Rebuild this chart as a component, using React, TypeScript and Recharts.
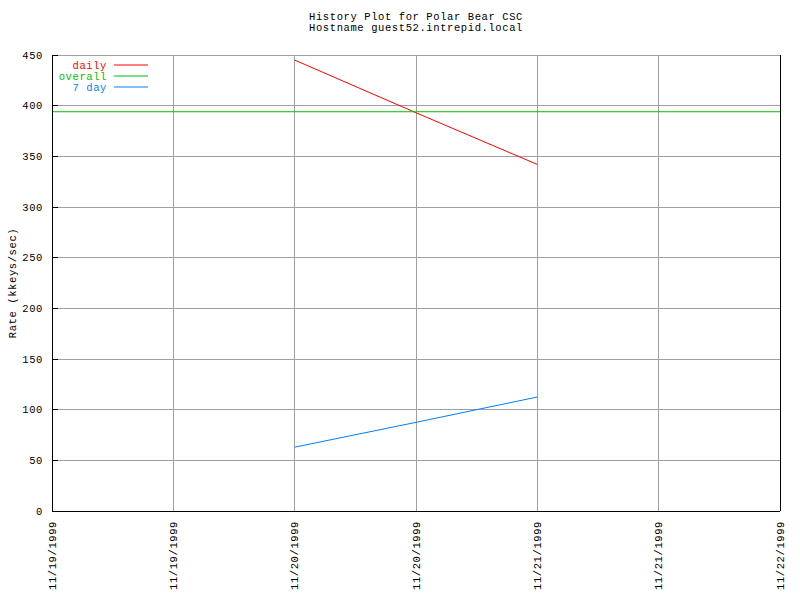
import React from 'react';
import { LineChart, Line, XAxis, YAxis, CartesianGrid } from 'recharts';

const xTickLabels = ['11/19/1999', '11/19/1999', '11/20/1999', '11/20/1999', '11/21/1999', '11/21/1999', '11/22/1999'];
const xPositions = [0, 1, 2, 3, 4, 5, 6];
const dailyValues: (number | null)[] = [null, null, 445, 393, 342, null, null];
const overallValues: (number | null)[] = [394, 394, 394, 394, 394, 394, 394];
const sevenDayValues: (number | null)[] = [null, null, 63, 87.5, 112.5, null, null];
const yTicks = [0, 50, 100, 150, 200, 250, 300, 350, 400, 450];
const titleLines = ['History Plot for Polar Bear CSC', 'Hostname guest52.intrepid.local'];
const yLabel = 'Rate (kkeys/sec)';

const series = [
  { key: 'daily', name: 'daily', color: '#ff0000' },
  { key: 'overall', name: 'overall', color: '#00c000' },
  { key: 'sevenDay', name: '7 day', color: '#0080ff' },
];

const data = xPositions.map((x, i) => ({
  x,
  daily: dailyValues[i],
  overall: overallValues[i],
  sevenDay: sevenDayValues[i],
}));

const minorTicks: number[] = [];
for (let i = 0; i < xPositions.length - 1; i++) {
  for (let k = 1; k < 4; k++) minorTicks.push(xPositions[i] + k / 4);
}

const FONT = '"Liberation Mono", "DejaVu Sans Mono", monospace';
const FS = 10.5;
const LS = 0.6;
const W = 800;
const H = 600;
const M = { top: 55, right: 0, bottom: 9, left: 0 };
const LEFT_W = 52;
const RIGHT_W = 20;
const BOTTOM_H = 80;
const plotTop = M.top;
const plotBottom = H - M.bottom - BOTTOM_H;
const plotLeft = LEFT_W;
const plotRight = W - RIGHT_W;

const textProps = { fontFamily: FONT, fontSize: FS, letterSpacing: LS };

const LeftTick = (props: any) => {
  const { x, y, payload } = props;
  return (
    <g>
      <line x1={x} y1={y} x2={x + 6} y2={y} stroke="#000" shapeRendering="crispEdges" />
      <text x={x - 9} y={y} dy="0.35em" textAnchor="end" {...textProps} fill="#000">
        {payload.value}
      </text>
    </g>
  );
};

const RightTick = (props: any) => {
  const { x, y } = props;
  return <line x1={x} y1={y} x2={x - 6} y2={y} stroke="#000" shapeRendering="crispEdges" />;
};

const BottomTick = (props: any) => {
  const { x, y, payload } = props;
  const label = xTickLabels[xPositions.indexOf(payload.value)] ?? '';
  const ty = y + 10;
  return (
    <text
      x={x}
      y={ty}
      dy="0.35em"
      transform={`rotate(-90, ${x}, ${ty})`}
      textAnchor="end"
      {...textProps}
      fill="#000"
    >
      {label}
    </text>
  );
};

const MinorBottomTick = (props: any) => {
  const { x, y } = props;
  return <line x1={x} y1={y} x2={x} y2={y - 3} stroke="#000" shapeRendering="crispEdges" />;
};

const MinorTopTick = (props: any) => {
  const { x, y } = props;
  return <line x1={x} y1={y} x2={x} y2={y + 3} stroke="#000" shapeRendering="crispEdges" />;
};

export default function App() {
  return (
    <div style={{ position: 'absolute', left: 0, top: 0, width: W, height: H, background: '#fff' }}>
      <LineChart width={W} height={H} data={data} margin={M}>
        <CartesianGrid xAxisId="main" yAxisId="left" stroke="#a0a0a0" strokeWidth={1} shapeRendering="crispEdges" />
        <XAxis
          xAxisId="main"
          dataKey="x"
          type="number"
          domain={[0, 6]}
          ticks={xPositions}
          orientation="bottom"
          height={BOTTOM_H}
          tickSize={0}
          tickMargin={0}
          tickLine={false}
          axisLine={{ stroke: '#000', shapeRendering: 'crispEdges' }}
          tick={BottomTick}
          interval={0}
        />
        <XAxis
          xAxisId="minorBottom"
          dataKey="x"
          type="number"
          domain={[0, 6]}
          ticks={minorTicks}
          orientation="bottom"
          height={0}
          tickSize={0}
          tickMargin={0}
          tickLine={false}
          axisLine={false}
          tick={MinorBottomTick}
          interval={0}
        />
        <XAxis
          xAxisId="top"
          dataKey="x"
          type="number"
          domain={[0, 6]}
          ticks={minorTicks}
          orientation="top"
          height={0}
          tickSize={0}
          tickMargin={0}
          tickLine={false}
          axisLine={{ stroke: '#000', shapeRendering: 'crispEdges' }}
          tick={MinorTopTick}
          interval={0}
        />
        <YAxis
          yAxisId="left"
          type="number"
          domain={[0, 450]}
          ticks={yTicks}
          width={LEFT_W}
          tickSize={0}
          tickMargin={0}
          tickLine={false}
          axisLine={{ stroke: '#000', shapeRendering: 'crispEdges' }}
          tick={LeftTick}
          interval={0}
        />
        <YAxis
          yAxisId="right"
          orientation="right"
          type="number"
          domain={[0, 450]}
          ticks={yTicks}
          width={RIGHT_W}
          tickSize={0}
          tickMargin={0}
          tickLine={false}
          axisLine={{ stroke: '#000', shapeRendering: 'crispEdges' }}
          tick={RightTick}
          interval={0}
        />
        {series.map((s) => (
          <Line
            key={s.key}
            xAxisId="main"
            yAxisId="left"
            type="linear"
            dataKey={s.key}
            name={s.name}
            stroke={s.color}
            strokeWidth={1}
            dot={false}
            activeDot={false}
            isAnimationActive={false}
          />
        ))}
      </LineChart>
      <svg
        width={W}
        height={H}
        style={{ position: 'absolute', left: 0, top: 0, pointerEvents: 'none' }}
      >
        {titleLines.map((t, i) => (
          <text
            key={i}
            x={(plotLeft + plotRight) / 2}
            y={16 + i * 11}
            dy="0.35em"
            textAnchor="middle"
            {...textProps}
            fill="#000"
          >
            {t}
          </text>
        ))}
        <text
          x={12}
          y={(plotTop + plotBottom) / 2}
          dy="0.35em"
          transform={`rotate(-90, 12, ${(plotTop + plotBottom) / 2})`}
          textAnchor="middle"
          {...textProps}
          fill="#000"
        >
          {yLabel}
        </text>
        {series.map((s, i) => {
          const y = 65 + i * 11;
          return (
            <g key={s.key}>
              <text x={107} y={y} dy="0.35em" textAnchor="end" {...textProps} fill={s.color}>
                {s.name}
              </text>
              <line x1={114} y1={y} x2={148} y2={y} stroke={s.color} strokeWidth={1.2} />
            </g>
          );
        })}
      </svg>
    </div>
  );
}
